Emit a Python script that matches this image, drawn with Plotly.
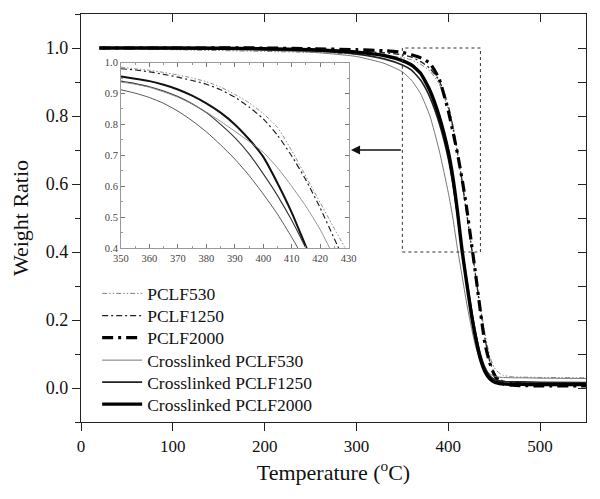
import plotly.graph_objects as go

# ---------------- data ----------------
temperature = [20, 100, 200, 250, 300, 330, 350, 360, 370, 380, 390, 400, 405, 410,
               415, 420, 425, 430, 435, 440, 445, 450, 455, 460, 470, 480, 500, 550]

pclf530 = [1.000, 0.995, 0.990, 0.987, 0.982, 0.978, 0.972, 0.965, 0.952, 0.932, 0.895, 0.820, 0.760, 0.690,
           0.600, 0.510, 0.420, 0.330, 0.240, 0.160, 0.095, 0.060, 0.045, 0.037, 0.033, 0.032, 0.031, 0.030]
pclf1250 = [1.000, 0.999, 0.997, 0.995, 0.990, 0.986, 0.980, 0.973, 0.960, 0.940, 0.905, 0.830, 0.770, 0.695,
            0.610, 0.515, 0.420, 0.325, 0.230, 0.145, 0.080, 0.045, 0.028, 0.020, 0.016, 0.015, 0.014, 0.013]
pclf2000 = [1.000, 1.000, 1.000, 0.998, 0.995, 0.992, 0.987, 0.980, 0.971, 0.955, 0.910, 0.815, 0.755, 0.690,
            0.615, 0.530, 0.430, 0.330, 0.225, 0.130, 0.075, 0.040, 0.020, 0.012, 0.008, 0.007, 0.006, 0.006]
xl530 = [1.000, 0.998, 0.993, 0.988, 0.975, 0.955, 0.930, 0.905, 0.865, 0.800, 0.700, 0.575, 0.500, 0.410,
         0.330, 0.250, 0.180, 0.120, 0.080, 0.055, 0.042, 0.035, 0.032, 0.031, 0.030, 0.030, 0.029, 0.028]
xl1250 = [1.000, 0.999, 0.996, 0.992, 0.982, 0.968, 0.950, 0.935, 0.905, 0.855, 0.780, 0.675, 0.600, 0.510,
          0.410, 0.320, 0.235, 0.160, 0.100, 0.060, 0.037, 0.026, 0.021, 0.019, 0.018, 0.018, 0.017, 0.016]
xl2000 = [1.000, 1.000, 0.998, 0.995, 0.988, 0.978, 0.963, 0.950, 0.925, 0.875, 0.800, 0.695, 0.620, 0.520,
          0.405, 0.310, 0.220, 0.145, 0.085, 0.048, 0.028, 0.018, 0.014, 0.012, 0.011, 0.011, 0.010, 0.010]

# inset (350-430 C)
inset_temperature = [350, 355, 360, 365, 370, 375, 380, 385, 390, 395, 400, 405, 410, 415, 420, 425, 430]
inset_a = [0.985, 0.980, 0.975, 0.968, 0.960, 0.950, 0.938, 0.921, 0.897, 0.870, 0.835, 0.790, 0.715, 0.632, 0.547, 0.463, 0.380]
inset_b = [0.980, 0.976, 0.970, 0.962, 0.953, 0.942, 0.930, 0.912, 0.888, 0.856, 0.818, 0.765, 0.698, 0.620, 0.530, 0.430, 0.330]
inset_c = [0.955, 0.948, 0.940, 0.928, 0.913, 0.893, 0.868, 0.838, 0.800, 0.752, 0.695, 0.610, 0.515, 0.405, 0.300, 0.200, 0.120]
inset_d = [0.940, 0.932, 0.922, 0.908, 0.890, 0.867, 0.838, 0.800, 0.757, 0.705, 0.640, 0.570, 0.490, 0.400, 0.310, 0.220, 0.150]
inset_e = [0.937, 0.930, 0.920, 0.905, 0.888, 0.866, 0.840, 0.810, 0.778, 0.745, 0.710, 0.660, 0.600, 0.535, 0.460, 0.370, 0.280]
inset_f = [0.912, 0.901, 0.887, 0.868, 0.843, 0.812, 0.776, 0.734, 0.688, 0.635, 0.575, 0.510, 0.435, 0.355, 0.280, 0.200, 0.140]

series_names = ["PCLF530", "PCLF1250", "PCLF2000",
                "Crosslinked PCLF530", "Crosslinked PCLF1250", "Crosslinked PCLF2000"]

# ---------------- styles ----------------
FONT = "Liberation Serif"
main_styles = [
    dict(color="#808080", width=1.0, dash="5px,2px,1.5px,2px,1.5px,2px"),
    dict(color="#222222", width=1.3, dash="6px,3px,2px,3px"),
    dict(color="#000000", width=3.2, dash="11px,5px,3px,5px"),
    dict(color="#777777", width=1.0, dash="solid"),
    dict(color="#222222", width=1.6, dash="solid"),
    dict(color="#000000", width=3.4, dash="solid"),
]
main_values = [pclf530, pclf1250, pclf2000, xl530, xl1250, xl2000]

fig = go.Figure()

legend_rows_py = [293.3, 315.5, 337.5, 360.0, 382.0, 404.0]
plot_top, plot_bottom = 14, 421.7

for i, (name, vals, st) in enumerate(zip(series_names, main_values, main_styles)):
    lname = "legend" if i == 0 else f"legend{i+1}"
    fig.add_trace(go.Scatter(x=temperature, y=vals, mode="lines", name=name,
                             line=dict(color=st["color"], width=st["width"], dash=st["dash"],
                                       shape="spline", smoothing=0.5),
                             legend=lname, hoverinfo="skip"))

inset_values = [inset_a, inset_b, inset_c, inset_d, inset_e, inset_f]
inset_styles = [
    dict(color="#808080", width=0.9, dash="4px,2px,1.5px,2px,1.5px,2px"),
    dict(color="#222222", width=1.2, dash="6px,3px,2px,3px"),
    dict(color="#111111", width=2.0, dash="solid"),
    dict(color="#333333", width=1.1, dash="solid"),
    dict(color="#888888", width=0.9, dash="solid"),
    dict(color="#444444", width=0.9, dash="solid"),
]
for vals, st in zip(inset_values, inset_styles):
    fig.add_trace(go.Scatter(x=inset_temperature, y=vals, mode="lines", showlegend=False,
                             line=dict(color=st["color"], width=st["width"], dash=st["dash"],
                                       shape="spline", smoothing=0.6),
                             xaxis="x2", yaxis="y2", hoverinfo="skip"))

# dummy trace for mirrored (inside-ticked) top/right axes
fig.add_trace(go.Scatter(x=[None], y=[None], xaxis="x3", yaxis="y3", showlegend=False,
                         mode="lines", hoverinfo="skip"))

axis_font = dict(family=FONT, size=17, color="#111111")
# the page body adds an 8px offset, so the figure is 592x491 with margins shifted by 8px
fig.update_layout(
    width=592, height=491,
    margin=dict(l=72.7, r=14.3, t=6, b=77.3, autoexpand=False),
    paper_bgcolor="white", plot_bgcolor="white",
    font=dict(family=FONT, color="#111111"),
    xaxis=dict(range=[0, 550], dtick=100, tick0=0, ticks="outside", ticklen=8, tickwidth=1.2,
               tickcolor="#222", showline=True, linecolor="#222", linewidth=1.4, showgrid=False,
               zeroline=False, tickfont=axis_font, automargin=False,
               title=dict(text="Temperature (<sup>o</sup>C)", font=dict(family=FONT, size=22),
                          standoff=10)),
    yaxis=dict(range=[-0.1, 1.1], dtick=0.2, tick0=0, tickformat=".1f", ticks="outside", ticklen=8,
               tickwidth=1.2, tickcolor="#222", showline=True, linecolor="#222", linewidth=1.4,
               showgrid=False, zeroline=False, tickfont=dict(family=FONT, size=18, color="#111111"),
               automargin=False,
               minor=dict(dtick=0.1, ticks="outside", ticklen=5, tickwidth=1.2, tickcolor="#222"),
               title=dict(text="Weight Ratio", font=dict(family=FONT, size=22), standoff=15)),
    xaxis3=dict(overlaying="x", side="top", anchor="y3", range=[0, 550], dtick=100, tick0=0,
                ticks="inside", ticklen=8, tickwidth=1.2, tickcolor="#222", showticklabels=False,
                showline=True, linecolor="#222", linewidth=1.4, showgrid=False, zeroline=False,
                automargin=False),
    yaxis3=dict(overlaying="y", side="right", anchor="x3", range=[-0.1, 1.1], dtick=0.1, tick0=0,
                ticks="inside", ticklen=8, tickwidth=1.2, tickcolor="#222", showticklabels=False,
                showline=True, linecolor="#222", linewidth=1.4, showgrid=False, zeroline=False,
                automargin=False),
    xaxis2=dict(domain=[0.0792, 0.530], anchor="y2", range=[350, 430], dtick=10, tick0=350,
                ticks="inside", ticklen=4, tickcolor="#777", showline=True, linecolor="#999",
                linewidth=1, mirror="ticks", showgrid=False, zeroline=False, automargin=False,
                tickfont=dict(family=FONT, size=10.5, color="#444"),
                minor=dict(dtick=5, ticks="inside", ticklen=2, tickcolor="#999")),
    yaxis2=dict(domain=[0.426, 0.881], anchor="x2", range=[0.4, 1.0], dtick=0.1, tick0=0.4,
                tickformat=".1f", ticks="inside", ticklen=4, tickcolor="#777", showline=True,
                linecolor="#999", linewidth=1, mirror="ticks", showgrid=False, zeroline=False,
                automargin=False,
                tickfont=dict(family=FONT, size=10.5, color="#444"),
                minor=dict(dtick=0.05, ticks="inside", ticklen=2, tickcolor="#999")),
)

# one single-item legend per row so the row spacing follows the picture
for i, py in enumerate(legend_rows_py):
    key = "legend" if i == 0 else f"legend{i+1}"
    fig.update_layout({key: dict(x=0.032, xanchor="left",
                                 y=(plot_bottom - py) / (plot_bottom - plot_top), yanchor="middle",
                                 bgcolor="rgba(0,0,0,0)", borderwidth=0,
                                 font=dict(family=FONT, size=17.5, color="#111"),
                                 itemwidth=40, tracegroupgap=0)})

# zoom box and arrow
fig.add_shape(type="rect", xref="x", yref="y", x0=350, x1=435, y0=0.4, y1=1.0,
              line=dict(color="#333", width=1, dash="dot"), layer="above")
fig.add_annotation(x=294, y=0.70, ax=350, ay=0.70, xref="x", yref="y", axref="x", ayref="y",
                   text="", showarrow=True, arrowhead=2, arrowsize=1.3, arrowwidth=1.4,
                   arrowcolor="#111")

fig.write_html("out.html")
